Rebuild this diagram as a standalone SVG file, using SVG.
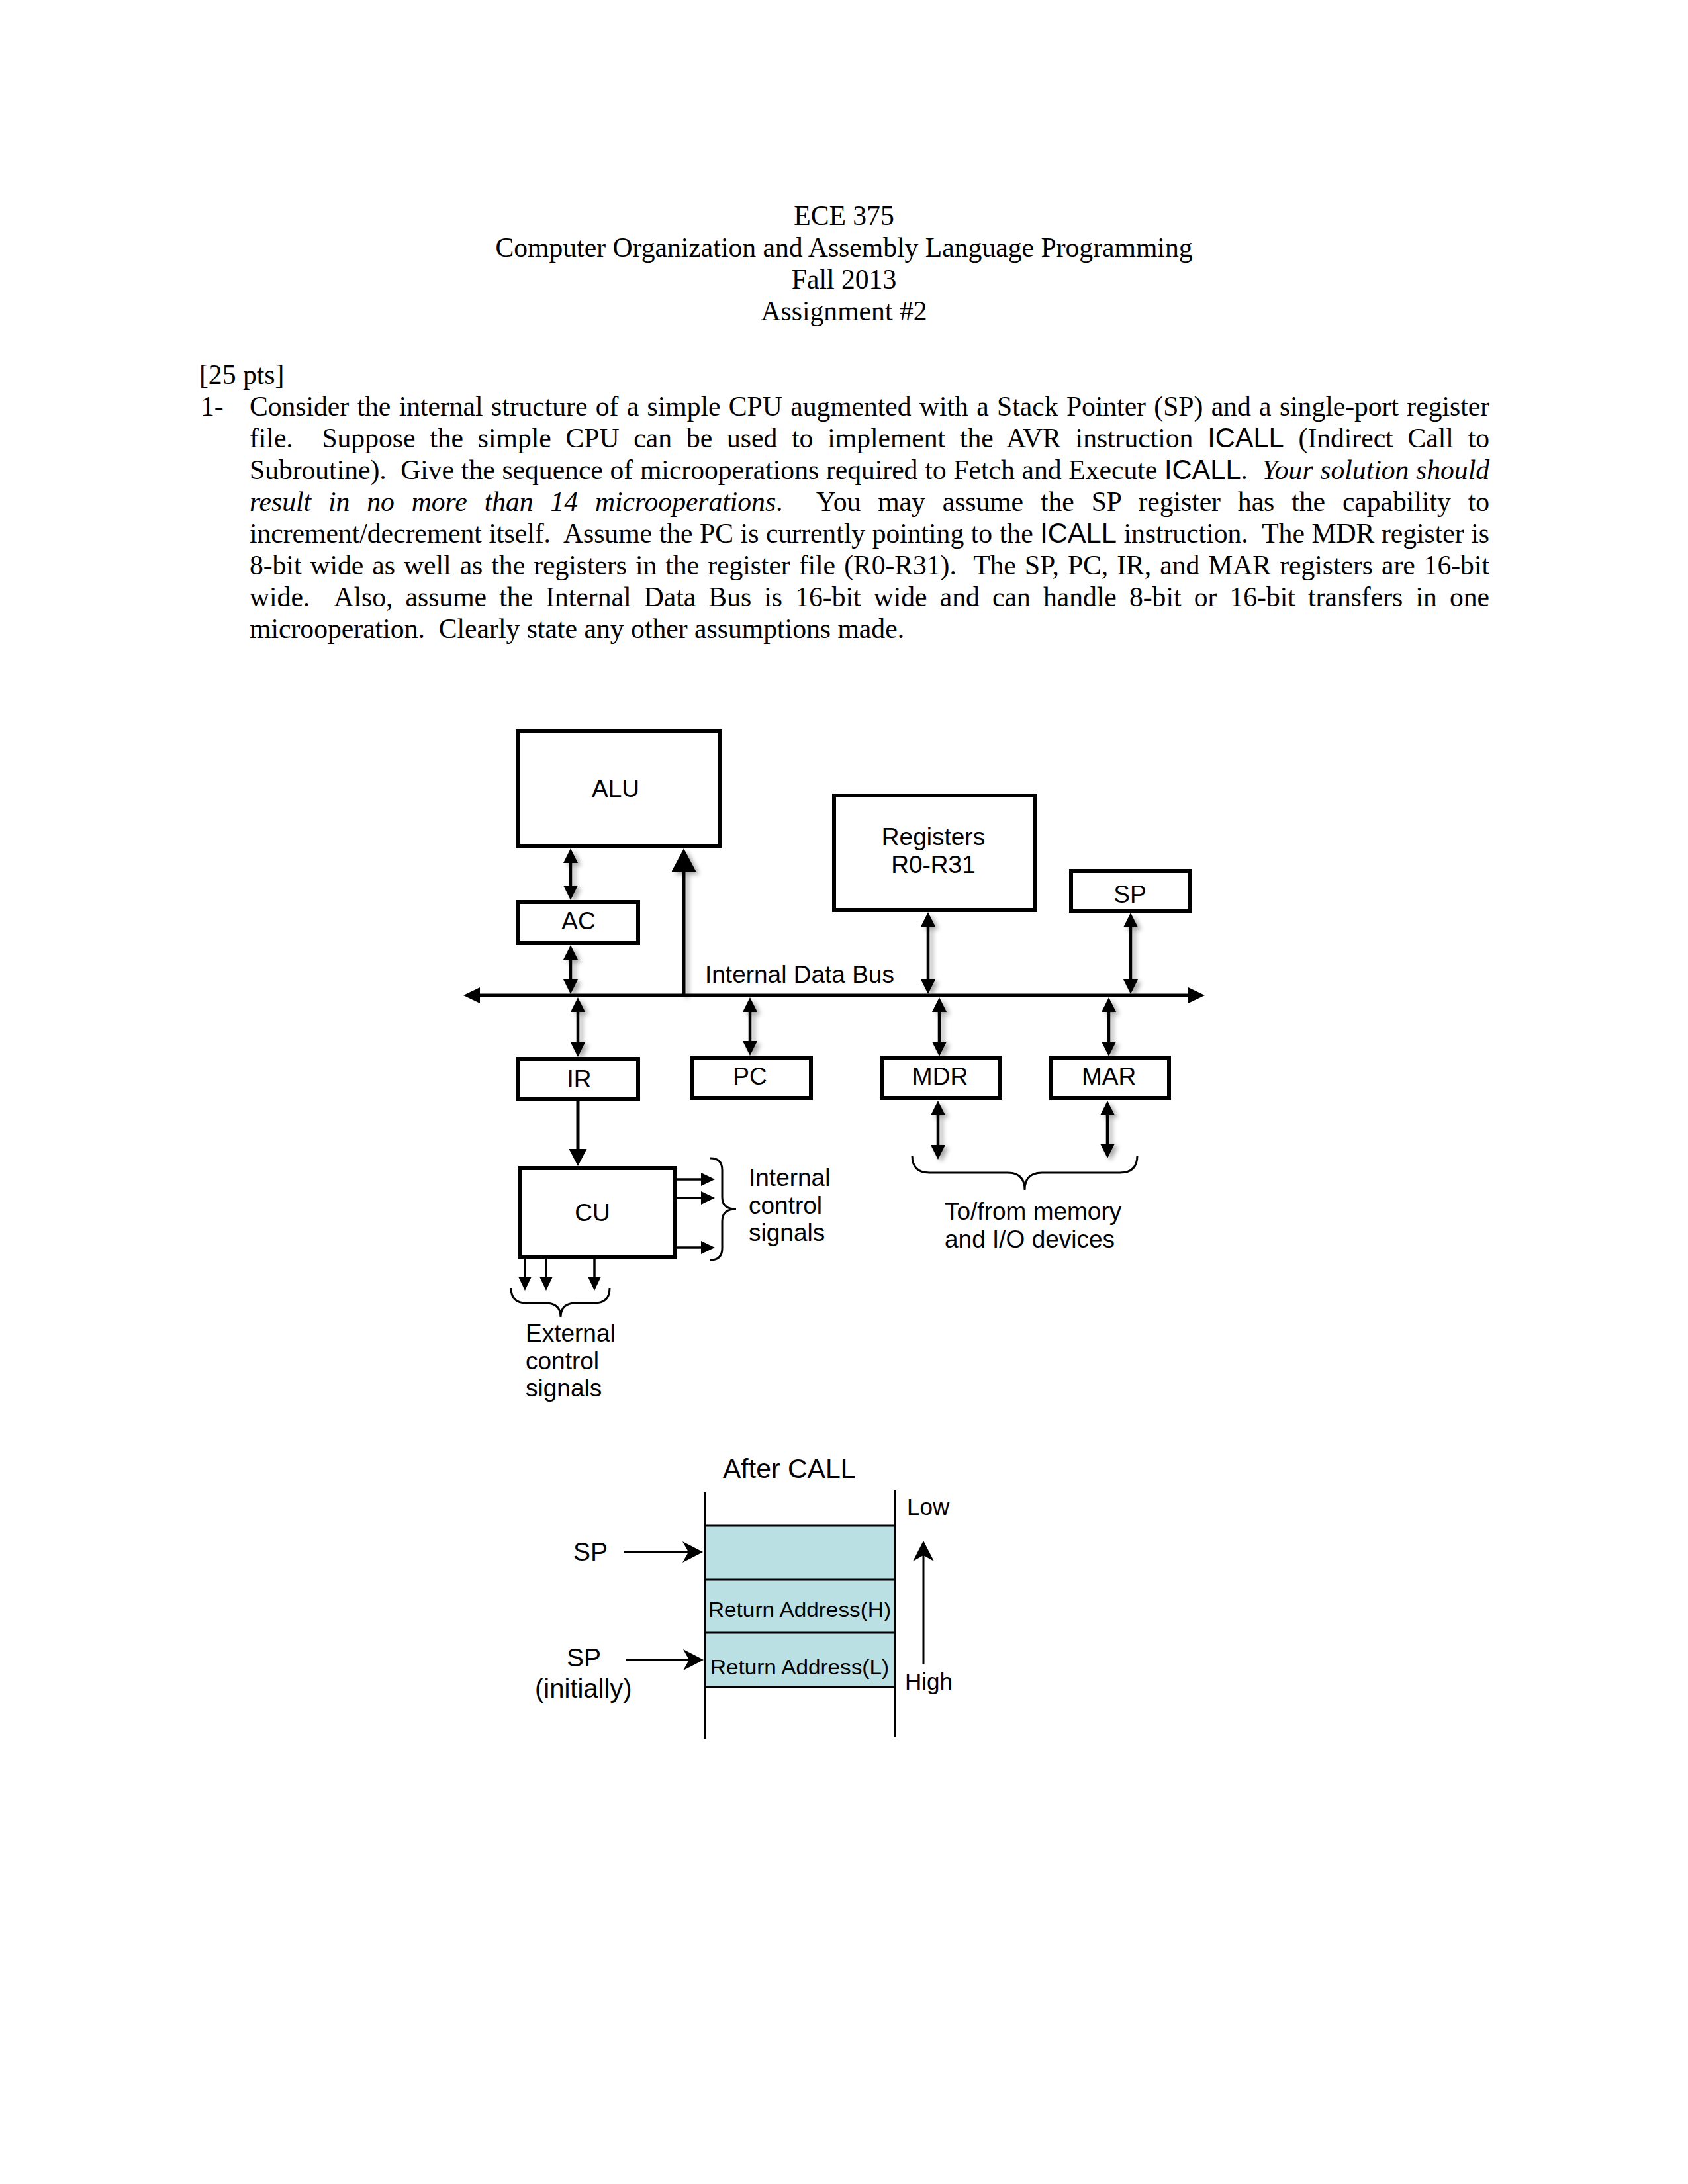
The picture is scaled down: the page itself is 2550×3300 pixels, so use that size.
<svg xmlns="http://www.w3.org/2000/svg" width="2550" height="3300" viewBox="0 0 2550 3300">
<style>
.serif{font-family:"Liberation Serif","Times New Roman",serif;font-size:41.667px;fill:#000}
.sans{font-family:"Liberation Sans",Arial,sans-serif;fill:#000}
.lbl{font-family:"Liberation Sans",Arial,sans-serif;font-size:37px;fill:#000}
.box{fill:#fff;stroke:#000;stroke-width:6}
.dbl{stroke:#000;stroke-width:4.5;fill:none;marker-start:url(#m22);marker-end:url(#m22)}
.thin{stroke:#000;stroke-width:3.5;fill:none;marker-end:url(#m21)}
.brace{stroke:#000;stroke-width:3;fill:none}
.stk{stroke:#000;stroke-width:3;fill:none}
.stkarrow{stroke:#000;stroke-width:3;fill:none;marker-end:url(#mb)}
</style>
<defs>
<marker id="m22" viewBox="0 0 22 22" refX="8" refY="11" markerWidth="22" markerHeight="22" markerUnits="userSpaceOnUse" orient="auto-start-reverse"><path d="M0,0L22,11L0,22z" fill="#000"/></marker>
<marker id="m37" viewBox="0 0 35 37" refX="10" refY="18.5" markerWidth="35" markerHeight="37" markerUnits="userSpaceOnUse" orient="auto"><path d="M0,0L35,18.5L0,37z" fill="#000"/></marker>
<marker id="m27" viewBox="0 0 26 27" refX="8" refY="13.5" markerWidth="26" markerHeight="27" markerUnits="userSpaceOnUse" orient="auto"><path d="M0,0L26,13.5L0,27z" fill="#000"/></marker>
<marker id="m21" viewBox="0 0 21 20" refX="6" refY="10" markerWidth="21" markerHeight="20" markerUnits="userSpaceOnUse" orient="auto"><path d="M0,0L21,10L0,20z" fill="#000"/></marker>
<marker id="m25" viewBox="0 0 25 24" refX="8" refY="12" markerWidth="25" markerHeight="24" markerUnits="userSpaceOnUse" orient="auto-start-reverse"><path d="M0,0L25,12L0,24z" fill="#000"/></marker>
<marker id="mb" viewBox="0 0 31 32" refX="9" refY="16" markerWidth="31" markerHeight="32" markerUnits="userSpaceOnUse" orient="auto"><path d="M0,0L31,16L0,32L9,16z" fill="#000"/></marker>
<filter id="sh" filterUnits="userSpaceOnUse" x="0" y="0" width="2550" height="3300"><feGaussianBlur in="SourceAlpha" stdDeviation="3.5"/><feOffset dx="5" dy="4"/><feComponentTransfer><feFuncA type="linear" slope="0.35"/></feComponentTransfer><feMerge><feMergeNode/><feMergeNode in="SourceGraphic"/></feMerge></filter>
</defs>
<rect width="2550" height="3300" fill="#fff"/>

<g id="header" class="serif" text-anchor="middle">
<text x="1275" y="340">ECE 375</text>
<text x="1275" y="388">Computer Organization and Assembly Language Programming</text>
<text x="1275" y="436">Fall 2013</text>
<text x="1275" y="484">Assignment #2</text>
</g>

<g id="question" class="serif">
<text x="301" y="580">[25 pts]</text>
<text x="303" y="628">1-</text>
<text x="377" y="628" xml:space="preserve" style="word-spacing:2px" textLength="1873" lengthAdjust="spacing">Consider the internal structure of a simple CPU augmented with a Stack Pointer (SP) and a single-port register</text>
<text x="377" y="676" xml:space="preserve" style="word-spacing:11.5px" textLength="1873" lengthAdjust="spacing">file.  Suppose the simple CPU can be used to implement the AVR instruction <tspan class="sans">ICALL</tspan> (Indirect Call to</text>
<text x="377" y="724" xml:space="preserve" style="word-spacing:0.4px" textLength="1873" lengthAdjust="spacing">Subroutine).  Give the sequence of microoperations required to Fetch and Execute <tspan class="sans">ICALL</tspan>.  <tspan font-style="italic">Your solution should</tspan></text>
<text x="377" y="772" xml:space="preserve" style="word-spacing:15.6px" textLength="1873" lengthAdjust="spacing"><tspan font-style="italic">result in no more than 14 microoperations</tspan>.  You may assume the SP register has the capability to</text>
<text x="377" y="820" xml:space="preserve" style="word-spacing:0.3px" textLength="1873" lengthAdjust="spacing">increment/decrement itself.  Assume the PC is currently pointing to the <tspan class="sans">ICALL</tspan> instruction.  The MDR register is</text>
<text x="377" y="868" xml:space="preserve" style="word-spacing:2.7px" textLength="1873" lengthAdjust="spacing">8-bit wide as well as the registers in the register file (R0-R31).  The SP, PC, IR, and MAR registers are 16-bit</text>
<text x="377" y="916" xml:space="preserve" style="word-spacing:8.8px" textLength="1873" lengthAdjust="spacing">wide.  Also, assume the Internal Data Bus is 16-bit wide and can handle 8-bit or 16-bit transfers in one</text>
<text x="377" y="964" xml:space="preserve">microoperation.  Clearly state any other assumptions made.</text>
</g>

<g id="connectors">
<g filter="url(#sh)">
<line class="dbl" x1="862" y1="1296" x2="862" y2="1346"/>
<line class="dbl" x1="862" y1="1442" x2="862" y2="1488"/>
<line class="dbl" x1="873" y1="1521" x2="873" y2="1583"/>
<line class="dbl" x1="1133" y1="1521" x2="1133" y2="1581"/>
<line class="dbl" x1="1402" y1="1392" x2="1402" y2="1488"/>
<line class="dbl" x1="1708" y1="1393" x2="1708" y2="1488"/>
<line class="dbl" x1="1419" y1="1521" x2="1419" y2="1582"/>
<line class="dbl" x1="1675" y1="1521" x2="1675" y2="1582"/>
<line class="dbl" x1="1417" y1="1677" x2="1417" y2="1738"/>
<line class="dbl" x1="1673" y1="1677" x2="1673" y2="1736"/>
<line x1="1033" y1="1504" x2="1033" y2="1307" stroke="#000" stroke-width="5" marker-end="url(#m37)"/>
</g>
<line id="bus" x1="717" y1="1504" x2="1803" y2="1504" stroke="#000" stroke-width="5" marker-start="url(#m25)" marker-end="url(#m25)"/>
<line x1="873" y1="1664" x2="873" y2="1744" stroke="#000" stroke-width="5" marker-end="url(#m27)"/>
<line class="thin" x1="1023" y1="1782" x2="1065" y2="1782"/>
<line class="thin" x1="1023" y1="1810" x2="1065" y2="1810"/>
<line class="thin" x1="1023" y1="1885" x2="1065" y2="1885"/>
<line class="thin" x1="793" y1="1902" x2="793" y2="1935"/>
<line class="thin" x1="825" y1="1902" x2="825" y2="1935"/>
<line class="thin" x1="898" y1="1902" x2="898" y2="1935"/>
<path class="brace" d="M1073,1750 Q1091,1750 1091,1768 L1091,1809 Q1091,1827 1112,1827 Q1091,1827 1091,1845 L1091,1886 Q1091,1904 1073,1904"/>
<path class="brace" d="M772,1946 Q772,1969 795,1969 L824,1969 Q847,1969 847,1990 Q847,1969 870,1969 L898,1969 Q921,1969 921,1946"/>
<path class="brace" d="M1378,1746 Q1378,1772 1404,1772 L1522,1772 Q1548,1772 1548,1798 Q1548,1772 1574,1772 L1692,1772 Q1718,1772 1718,1746"/>
</g>

<g id="ALU"><rect class="box" x="782" y="1105" width="306" height="174"/><text class="lbl" x="930" y="1204" text-anchor="middle">ALU</text></g>
<g id="AC"><rect class="box" x="782" y="1363" width="182" height="62"/><text class="lbl" x="874" y="1404" text-anchor="middle">AC</text></g>
<g id="IR"><rect class="box" x="783" y="1600" width="181" height="61"/><text class="lbl" x="875" y="1643" text-anchor="middle">IR</text></g>
<g id="PC"><rect class="box" x="1045" y="1598" width="180" height="61"/><text class="lbl" x="1133" y="1639" text-anchor="middle">PC</text></g>
<g id="Registers"><rect class="box" x="1260" y="1202" width="304" height="173"/><text class="lbl" x="1410" y="1277" text-anchor="middle">Registers</text><text class="lbl" x="1410" y="1319" text-anchor="middle">R0-R31</text></g>
<g id="SP"><rect class="box" x="1618" y="1316" width="179" height="60"/><text class="lbl" x="1707" y="1364" text-anchor="middle">SP</text></g>
<g id="MDR"><rect class="box" x="1332" y="1599" width="178" height="60"/><text class="lbl" x="1420" y="1639" text-anchor="middle">MDR</text></g>
<g id="MAR"><rect class="box" x="1588" y="1599" width="178" height="60"/><text class="lbl" x="1675" y="1639" text-anchor="middle">MAR</text></g>
<g id="CU"><rect class="box" x="786" y="1765" width="234" height="134"/><text class="lbl" x="895" y="1845" text-anchor="middle">CU</text></g>

<g id="labels" class="lbl">
<text x="1065" y="1485">Internal Data Bus</text>
<text x="1131" y="1792">Internal</text>
<text x="1131" y="1834">control</text>
<text x="1131" y="1875">signals</text>
<text x="794" y="2027">External</text>
<text x="794" y="2069">control</text>
<text x="794" y="2110">signals</text>
<text x="1427" y="1843">To/from memory</text>
<text x="1427" y="1885">and I/O devices</text>
</g>

<g id="stack">
<rect x="1065" y="2305" width="287" height="244" fill="#bbe0e3"/>
<line class="stk" x1="1065" y1="2305" x2="1352" y2="2305"/>
<line class="stk" x1="1065" y1="2387" x2="1352" y2="2387"/>
<line class="stk" x1="1065" y1="2467" x2="1352" y2="2467"/>
<line class="stk" x1="1065" y1="2549" x2="1352" y2="2549"/>
<line class="stk" x1="1065" y1="2255" x2="1065" y2="2627"/>
<line class="stk" x1="1352" y1="2251" x2="1352" y2="2625"/>
<line class="stkarrow" x1="942" y1="2345" x2="1040" y2="2345"/>
<line class="stkarrow" x1="946" y1="2508" x2="1041" y2="2508"/>
<line class="stkarrow" x1="1395" y1="2515" x2="1395" y2="2350"/>
<text class="sans" x="1092" y="2233" font-size="41">After CALL</text>
<text class="sans" x="866" y="2358" font-size="39">SP</text>
<text class="sans" x="856" y="2518" font-size="39">SP</text>
<text class="sans" x="808" y="2565" font-size="40">(initially)</text>
<text class="sans" x="1070" y="2443" font-size="31" textLength="276" lengthAdjust="spacingAndGlyphs">Return Address(H)</text>
<text class="sans" x="1073" y="2530" font-size="31" textLength="270" lengthAdjust="spacingAndGlyphs">Return Address(L)</text>
<text class="sans" x="1370" y="2289" font-size="35">Low</text>
<text class="sans" x="1367" y="2553" font-size="35">High</text>
</g>
</svg>
